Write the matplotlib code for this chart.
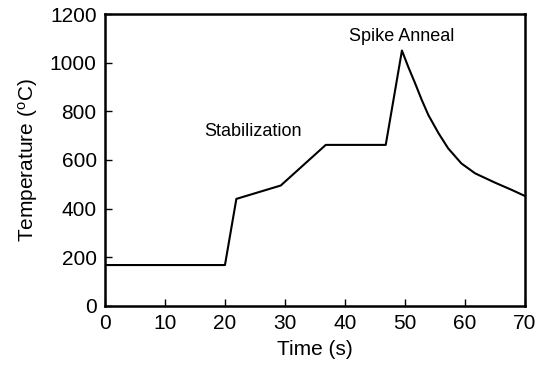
import numpy as np
import matplotlib
matplotlib.use("Agg")
import matplotlib.pyplot as plt

plt.rcParams['font.family'] = ['Liberation Sans', 'DejaVu Sans']
plt.rcParams['mathtext.fontset'] = 'custom'
plt.rcParams['mathtext.rm'] = 'Liberation Sans'

# temperature profile
time_s = [0, 20.0, 21.9, 29.3, 36.8, 46.8, 49.5, 50.55, 51.7, 52.8, 53.9,
          55.6, 57.2, 59.4, 61.7, 65.0, 67.8, 70.0]
temp_c = [168, 168, 440, 495, 662, 662, 1050, 983, 915, 847, 785,
          710, 648, 586, 545, 507, 477, 452]

xticks = [0, 10, 20, 30, 40, 50, 60, 70]
yticks = [0, 200, 400, 600, 800, 1000, 1200]

fig = plt.figure(figsize=(5.37, 3.80), dpi=100)
ax = fig.add_axes([0.1955, 0.195, 0.782, 0.768])

ax.plot(time_s, temp_c, color='black', lw=1.5)

ax.set_xlim(0, 70)
ax.set_ylim(0, 1200)
ax.set_xticks(xticks)
ax.set_yticks(yticks)
ax.tick_params(direction='in', length=5, width=1, labelsize=15, pad=6)
for s in ax.spines.values():
    s.set_linewidth(1.8)

ax.set_xlabel('Time (s)', fontsize=15, labelpad=5)
ax.set_ylabel(r'Temperature ($\mathregular{^o}$C)', fontsize=15, labelpad=7)

ax.text(24.7, 716, 'Stabilization', fontsize=13, ha='center', va='center')
ax.text(49.5, 1107, 'Spike Anneal', fontsize=13, ha='center', va='center')

fig.savefig('out.png', dpi=100)
